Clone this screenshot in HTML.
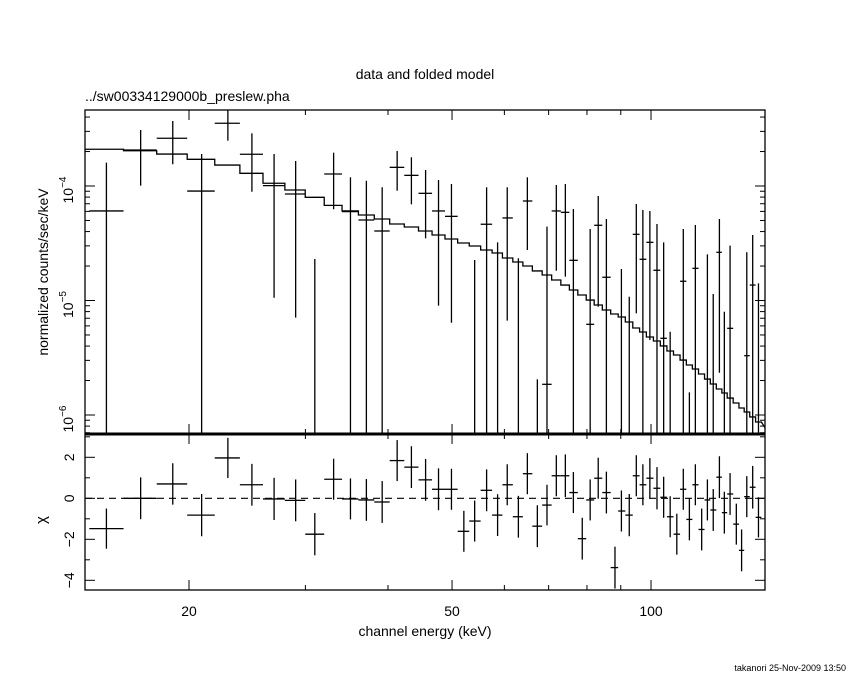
<!DOCTYPE html>
<html><head><meta charset="utf-8"><style>
html,body{margin:0;padding:0;background:#fff;}
svg{display:block;font-family:"Liberation Sans",sans-serif;}
</style></head><body>
<svg id="chart" width="850" height="680" viewBox="0 0 850 680" xmlns="http://www.w3.org/2000/svg">
<rect x="0" y="0" width="850" height="680" fill="#fff"/>
<text x="425" y="79" text-anchor="middle" font-size="14">data and folded model</text>
<text x="85" y="101" font-size="14">../sw00334129000b_preslew.pha</text>
<text transform="translate(48,272) rotate(-90)" text-anchor="middle" font-size="14">normalized counts/sec/keV</text>
<text transform="translate(46,520) rotate(-90)" text-anchor="middle" font-size="15">χ</text>
<text x="425" y="636" text-anchor="middle" font-size="14">channel energy (keV)</text>
<text x="846" y="671" text-anchor="end" font-size="9">takanori 25-Nov-2009 13:50</text>
<defs>
<clipPath id="clipTop"><rect x="85" y="110" width="680" height="324"/></clipPath>
<clipPath id="clipBot"><rect x="85" y="434" width="680" height="156"/></clipPath>
</defs>
<g id="axes"></g>
<g id="topData" clip-path="url(#clipTop)"></g>
<g id="botData" clip-path="url(#clipBot)"></g>
</svg>
<script>
const energy = [15.0,16.9,18.9,20.9,22.9,24.9,26.9,29.0,31.0,33.1,35.1,37.1,39.2,41.3,43.4,45.6,47.7,49.9,52.1,54.1,56.4,58.6,60.6,63.0,65.0,67.3,69.6,71.9,74.2,76.3,78.7,80.9,83.2,85.6,88.2,90.2,92.7,95.0,97.2,99.6,102.1,104.5,106.9,109.4,111.9,114.3,116.7,119.3,121.7,124.2,126.9,129.1,131.7,134.6,137.1,139.6,142.5,145.4];
const logFlux = [-4.218,-3.686,-3.583,-4.044,-3.452,-3.723,-3.997,-4.07,null,-3.895,-4.224,-4.297,-4.393,-3.837,-3.907,-4.064,-4.218,-4.265,null,null,-4.334,null,-4.279,null,-4.131,null,-5.732,-4.218,-4.23,-4.649,null,-5.208,-4.343,-4.797,null,null,null,-4.422,-4.64,-4.492,-4.736,-5.33,null,null,-4.832,null,-4.719,null,null,null,-4.579,null,-5.243,null,null,-5.482,-4.865,null];
const logFluxHi = [-3.796,-3.511,-3.432,-3.72,-3.336,-3.54,-3.72,-3.782,-4.638,-3.709,-3.924,-3.954,-4.011,-3.694,-3.749,-3.86,-3.948,-3.983,null,-4.646,-4.011,-4.492,-4.011,-4.631,-3.924,-5.688,-4.355,-3.991,-3.983,-4.201,null,-4.376,-4.087,-4.288,null,-4.725,-4.967,-4.157,-4.21,-4.218,-4.332,-4.492,-5.273,null,-4.376,-5.802,-4.341,null,-4.597,-4.943,-4.288,-5.098,-4.521,null,null,-4.579,-4.428,-4.85];
const logFluxLo = [null,-3.997,-3.81,null,-3.604,-4.05,-4.976,-5.15,null,-4.203,null,null,null,-4.041,-4.16,-4.457,-5.045,-5.194,null,null,null,null,-5.176,null,-4.559,null,null,-4.74,-4.792,null,null,null,-5.054,null,null,null,null,-5.112,null,-5.345,null,null,null,null,null,null,null,null,null,null,-5.631,null,null,null,null,null,null,null];
const logModel = [-3.679,-3.692,-3.721,-3.767,-3.817,-3.889,-3.976,-4.035,-4.099,-4.169,-4.218,-4.253,-4.288,-4.332,-4.358,-4.393,-4.428,-4.463,-4.498,-4.524,-4.559,-4.585,-4.629,-4.664,-4.699,-4.742,-4.777,-4.821,-4.865,-4.908,-4.952,-4.996,-5.039,-5.083,-5.118,-5.144,-5.188,-5.24,-5.275,-5.319,-5.354,-5.397,-5.441,-5.476,-5.52,-5.563,-5.598,-5.642,-5.686,-5.729,-5.773,-5.808,-5.852,-5.895,-5.939,-5.974,-6.017,-6.061];
const chi = [-1.48,0,0.70,-0.82,1.97,0.66,-0.03,-0.10,-1.75,0.93,-0.03,-0.08,-0.18,1.84,1.52,0.90,0.44,0.44,-1.61,-1.11,0.39,-0.82,0.66,-0.90,1.20,-1.36,-0.33,1.10,1.10,0.28,-1.97,-0.08,0.98,0.28,-3.38,-0.62,-0.82,1.10,0.66,0.98,0.49,0.05,-0.90,-1.75,0.44,-1.03,0.66,-1.52,-0.08,-0.57,1.03,-0.70,0.21,-1.26,-2.54,0.08,0.54,-0.93];
const chiErr = [0.98,1.02,1.01,1.03,0.98,1.02,1.03,1.02,1.03,1.0,1.0,1.02,1.02,1.0,1.02,1.02,1.02,1.0,1.0,1.0,1.02,1.02,1.0,1.02,1.0,1.02,0.99,1.0,1.04,1.0,1.02,1.0,1.0,1.02,1.02,1.0,1.03,1.0,1.0,0.98,1.03,1.0,1.0,1.0,1.0,1.02,1.0,1.02,1.0,1.02,1.02,1.02,1.02,1.0,1.02,1.0,1.04,0.98];
const xMajorTicks = [20,50,100];
const xMinorTicks = [30,40,60,70,80,90];
const yDecadeLabels = [-4,-5,-6];
const chiTicks = [2,0,-2,-4];

const NS = "http://www.w3.org/2000/svg";
const X0=85, X1=765, YT=110, YM=434, YB=590;
function xScale(e){ return 189 + 661*Math.log10(e/20); }
function yTop(l){ return 186 + (-4 - l)*114.5; }
function yRes(c){ return 498.3 - c*20.5; }
function mk(parent, tag, attrs){ const el=document.createElementNS(NS,tag); for(const k in attrs) el.setAttribute(k,attrs[k]); parent.appendChild(el); return el; }
const axes=document.getElementById('axes'), topG=document.getElementById('topData'), botG=document.getElementById('botData');

// bin edges
const edges=[];
for(let i=0;i<energy.length-1;i++) edges.push(Math.sqrt(energy[i]*energy[i+1]));
const loEdge=[energy[0]*energy[0]/edges[0]].concat(edges);
const hiEdge=edges.concat([energy[energy.length-1]*energy[energy.length-1]/edges[edges.length-1]]);

// frames
let f=mk(axes,'rect',{x:X0,y:YT,width:X1-X0,height:YB-YT,fill:'none',stroke:'#000','stroke-width':1.3});
 
let d=mk(axes,'line',{x1:X0,x2:X1,y1:YM,y2:YM,stroke:'#000','stroke-width':3});
 

// x ticks
function xTick(e,len){
  const x=xScale(e);
  [[YT,1],[YM,-1],[YM,1],[YB,-1]].forEach(([y0,s])=>{
    const t=mk(axes,'line',{x1:x,x2:x,y1:y0,y2:y0+s*len,stroke:'#000','stroke-width':1});
     
  });
}
xMajorTicks.forEach(e=>{ xTick(e,10);
  const t=mk(axes,'text',{x:xScale(e),y:616,'text-anchor':'middle','font-size':14}); t.textContent=String(e);
    });
xMinorTicks.forEach(e=>xTick(e,5));

// y ticks top
for(let dec=-7; dec<=-3; dec++){
  for(let m=1;m<=9;m++){
    const l=dec+Math.log10(m), y=yTop(l);
    if(y<YT||y>YM) continue;
    const len=m===1?10:5;
    [[X0,1],[X1,-1]].forEach(([x0,s])=>{
      const t=mk(axes,'line',{x1:x0,x2:x0+s*len,y1:y,y2:y,stroke:'#000','stroke-width':1});
       
    });
  }
}
yDecadeLabels.forEach(l=>{
  const t=mk(axes,'text',{transform:'translate(73,'+(yTop(l)+4)+') rotate(-90)','text-anchor':'middle','font-size':14});
  t.textContent='10';
  const s=document.createElementNS(NS,'tspan'); s.setAttribute('dy','-7'); s.setAttribute('font-size','10'); s.textContent='−'+(-l); t.appendChild(s);
   
});
// chi ticks
for(let c=-4;c<=3;c++){
  const y=yRes(c), len=(c%2===0)?10:5;
  [[X0,1],[X1,-1]].forEach(([x0,s])=>{
    const t=mk(axes,'line',{x1:x0,x2:x0+s*len,y1:y,y2:y,stroke:'#000','stroke-width':1});
     
  });
}
chiTicks.forEach(c=>{
  const t=mk(axes,'text',{transform:'translate(74,'+yRes(c)+') rotate(-90)','text-anchor':'middle','font-size':14});
  t.textContent=(c<0?'−':'')+Math.abs(c);
   
});

// model step line
let p='';
for(let i=0;i<energy.length;i++){
  const y=yTop(logModel[i]);
  const xa=i===0?X0:xScale(loEdge[i]);
  p+=(i===0?'M':'L')+xa+','+y+'L'+xScale(hiEdge[i])+','+y;
}
p+='L'+X1+','+yTop(logModel[logModel.length-1]-0.05);
const model=mk(topG,'path',{d:p,fill:'none',stroke:'#000','stroke-width':1.3});
 

// data points
for(let i=0;i<energy.length;i++){
  const x=xScale(energy[i]);
  if(logFluxHi[i]!==null){
    const y1=yTop(logFluxHi[i]), y2=logFluxLo[i]===null?YM:yTop(logFluxLo[i]);
    const v=mk(topG,'line',{x1:x,x2:x,y1:y1,y2:y2,stroke:'#000','stroke-width':1.3});
     
  }
  if(logFlux[i]!==null){
    const y=yTop(logFlux[i]);
    const h=mk(topG,'line',{x1:xScale(loEdge[i]),x2:xScale(hiEdge[i]),y1:y,y2:y,stroke:'#000','stroke-width':1.3});
     
  }
  const yc=yRes(chi[i]);
  const rv=mk(botG,'line',{x1:x,x2:x,y1:yRes(chi[i]+chiErr[i]),y2:yRes(chi[i]-chiErr[i]),stroke:'#000','stroke-width':1.3});
   
  const rh=mk(botG,'line',{x1:xScale(loEdge[i]),x2:xScale(hiEdge[i]),y1:yc,y2:yc,stroke:'#000','stroke-width':1.3});
   
}
const zl=mk(botG,'line',{x1:X0,x2:X1,y1:yRes(0),y2:yRes(0),stroke:'#000','stroke-width':1.2,'stroke-dasharray':'7,5'});
 
</script>
</body></html>
